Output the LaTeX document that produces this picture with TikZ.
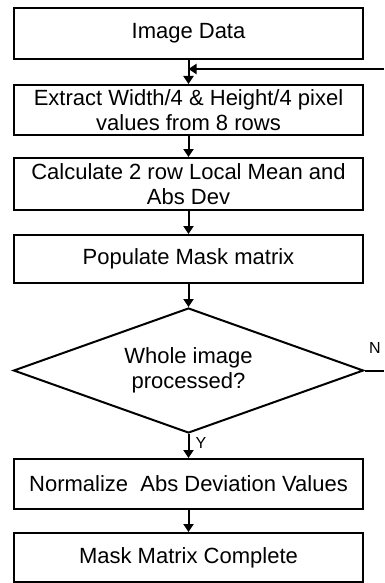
\documentclass[tikz,border=0pt]{standalone}
\usepackage{fontspec}
\setmainfont{Liberation Sans}
\usetikzlibrary{arrows.meta,shapes.geometric,calc}

\begin{document}
\begin{tikzpicture}[x=1pt,y=-1pt,
  every node/.style={font=\fontsize{22}{25}\selectfont},
  procbox/.style={draw, line width=2pt, rectangle, minimum width=349pt, inner sep=0pt, align=center},
  decision/.style={draw, line width=2pt, diamond, aspect=2.8, minimum width=350pt, minimum height=125pt, inner sep=0pt, align=center},
  flow/.style={line width=2pt, -{Triangle[length=8pt,width=10pt]}},
  plain/.style={line width=2pt},
  tag/.style={font=\fontsize{16}{18}\selectfont, inner sep=0pt}
]
\useasboundingbox (0,0) rectangle (384,583);

% process steps
\node[procbox, minimum height=51pt] (img)  at (188.5,33.5) {Image Data};
\node[procbox, minimum height=50pt] (ext)  at (188.5,110)  {Extract Width/4 \& Height/4 pixel\\values from 8 rows};
\node[procbox, minimum height=52pt] (calc) at (188.5,184)  {Calculate 2 row Local Mean and\\Abs Dev};
\node[procbox, minimum height=48pt] (pop)  at (188.5,259)  {Populate Mask matrix};
\node[decision] (dec) at (188.5,370.5) {Whole image\\processed?};
\node[procbox, minimum height=50pt] (norm) at (188.5,484)  {Normalize\ \ Abs Deviation Values};
\node[procbox, minimum height=49pt] (done) at (188.5,557.5) {Mask Matrix Complete};

% loop-back ends at the right border
\coordinate (fb) at (384,69);
\coordinate (nout) at (384,370.5);

% connectors
\draw[flow] (img) -- (ext);
\draw[flow] (fb) -- (fb -| img.south);
\draw[flow] (ext) -- (calc);
\draw[flow] (calc) -- (pop);
\draw[flow] (pop) -- (dec);
\draw[flow] (dec) -- (norm);
\draw[flow] (norm) -- (done);
\draw[plain] (dec.east) -- (nout);

% branch labels
\node[tag, anchor=center] (nlab) at (375,348) {N};
\node[tag, anchor=center] (ylab) at (201,443) {Y};
\end{tikzpicture}
\end{document}
